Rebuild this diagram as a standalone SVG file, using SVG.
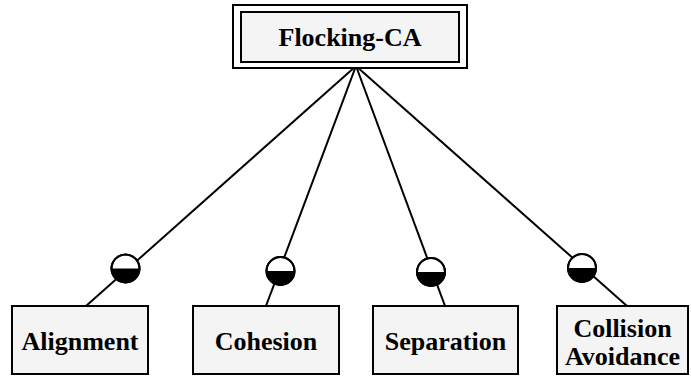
<svg xmlns="http://www.w3.org/2000/svg" width="691" height="379" viewBox="0 0 691 379">
  <style>
    .box { fill: #f4f4f4; stroke: #000; stroke-width: 2; }
    .frame { fill: #fff; stroke: #000; stroke-width: 2; }
    .label { font-family: "Liberation Serif", "Times New Roman", serif; font-weight: bold; font-size: 26px; fill: #000; text-anchor: middle; }
    .edge { stroke: #000; stroke-width: 2; fill: none; }
    .knob { fill: #fff; stroke: #000; stroke-width: 2; }
    .half { fill: #000; }
  </style>

  <!-- connectors from the root feature to each child -->
  <g id="connectors">
    <line class="edge" x1="356" y1="66" x2="86" y2="306"/>
    <line class="edge" x1="356" y1="66" x2="266" y2="306"/>
    <line class="edge" x1="356" y1="66" x2="445" y2="306"/>
    <line class="edge" x1="356" y1="66" x2="627" y2="306"/>

    <!-- optional-feature markers: half-filled circles -->
    <g id="marker-alignment">
      <circle class="knob" cx="125.5" cy="268.5" r="14"/>
      <path class="half" d="M111.5,268.5 A14,14 0 0 0 139.5,268.5 Z"/>
      <circle cx="125.5" cy="268.5" r="14" fill="none" stroke="#000" stroke-width="2"/>
    </g>
    <g id="marker-cohesion">
      <circle class="knob" cx="280.5" cy="271" r="14"/>
      <path class="half" d="M266.5,271 A14,14 0 0 0 294.5,271 Z"/>
      <circle cx="280.5" cy="271" r="14" fill="none" stroke="#000" stroke-width="2"/>
    </g>
    <g id="marker-separation">
      <circle class="knob" cx="431" cy="272" r="14"/>
      <path class="half" d="M417,272 A14,14 0 0 0 445,272 Z"/>
      <circle cx="431" cy="272" r="14" fill="none" stroke="#000" stroke-width="2"/>
    </g>
    <g id="marker-collision">
      <circle class="knob" cx="582" cy="268" r="14"/>
      <path class="half" d="M568,268 A14,14 0 0 0 596,268 Z"/>
      <circle cx="582" cy="268" r="14" fill="none" stroke="#000" stroke-width="2"/>
    </g>
  </g>

  <!-- root feature with double border -->
  <g id="flocking-ca">
    <rect class="frame" x="233" y="5" width="234" height="63"/>
    <rect class="box" x="241" y="12" width="218" height="50"/>
    <text class="label" x="350" y="46">Flocking-CA</text>
  </g>

  <g id="alignment">
    <rect class="box" x="12" y="306" width="136" height="68"/>
    <text class="label" x="80" y="350">Alignment</text>
  </g>

  <g id="cohesion">
    <rect class="box" x="193" y="306" width="146" height="68"/>
    <text class="label" x="266" y="350">Cohesion</text>
  </g>

  <g id="separation">
    <rect class="box" x="373" y="306" width="145" height="68"/>
    <text class="label" x="445.5" y="350">Separation</text>
  </g>

  <g id="collision-avoidance">
    <rect class="box" x="557" y="306" width="131" height="68"/>
    <text class="label" x="622.5" y="337">Collision</text>
    <text class="label" x="622.5" y="365">Avoidance</text>
  </g>
</svg>
